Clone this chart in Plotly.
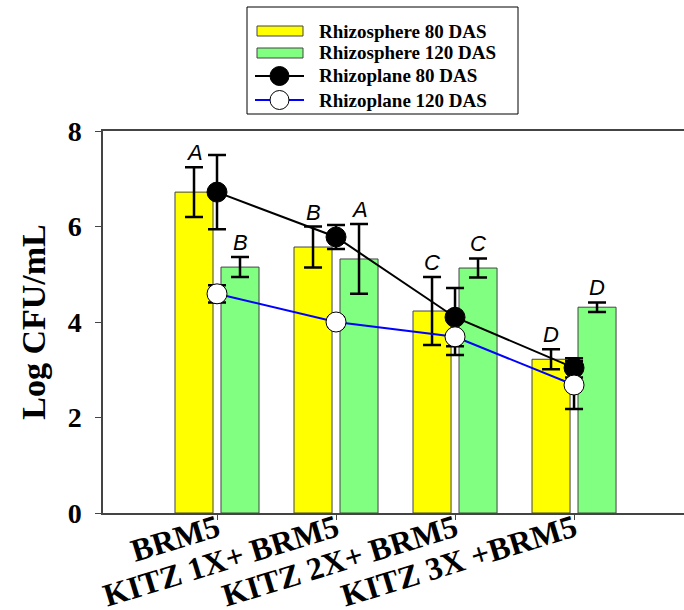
import plotly.graph_objects as go

categories = ["BRM5", "KITZ 1X+ BRM5", "KITZ 2X+ BRM5", "KITZ 3X +BRM5"]

rhizosphere_80 = [6.72, 5.57, 4.23, 3.22]
rhizosphere_80_err = [0.52, 0.43, 0.71, 0.21]
rhizosphere_120 = [5.15, 5.32, 5.13, 4.31]
rhizosphere_120_err = [0.21, 0.73, 0.20, 0.10]
rhizoplane_80 = [6.72, 5.78, 4.10, 3.04]
rhizoplane_80_err = [0.78, 0.25, 0.61, 0.20]
rhizoplane_120 = [4.59, 4.00, 3.69, 2.68]
rhizoplane_120_err = [0.18, 0.10, 0.38, 0.50]

letters_80 = ["A", "B", "C", "D"]
letters_120 = ["B", "A", "C", "D"]

series_names = ["Rhizosphere 80 DAS", "Rhizosphere 120 DAS", "Rhizoplane 80 DAS", "Rhizoplane 120 DAS"]

W, H = 684, 610
ML, MR, MT, MB = 103, 0, 131, 97
BARGAP = 0.227
BARGROUPGAP = 0.173

SERIF = "Liberation Serif, Times New Roman, serif"
SANS = "Liberation Sans, Arial, sans-serif"

fig = go.Figure()

err_style = dict(type="data", visible=True, thickness=2.5, width=9, color="black")

fig.add_trace(go.Bar(
    x=categories, y=rhizosphere_80, name=series_names[0],
    marker=dict(color="#FFFF00", line=dict(color="#444444", width=1)),
    error_y=dict(array=rhizosphere_80_err, **err_style), showlegend=False))
fig.add_trace(go.Bar(
    x=categories, y=rhizosphere_120, name=series_names[1],
    marker=dict(color="#80FF80", line=dict(color="#444444", width=1)),
    error_y=dict(array=rhizosphere_120_err, **err_style), showlegend=False))
fig.add_trace(go.Scatter(
    x=categories, y=rhizoplane_80, name=series_names[2], mode="lines+markers",
    line=dict(color="black", width=2),
    marker=dict(symbol="circle", size=20, color="black", line=dict(color="black", width=1)),
    error_y=dict(array=rhizoplane_80_err, **err_style), showlegend=False))
fig.add_trace(go.Scatter(
    x=categories, y=rhizoplane_120, name=series_names[3], mode="lines+markers",
    line=dict(color="#0000FF", width=2),
    marker=dict(symbol="circle", size=20, color="white", line=dict(color="black", width=1)),
    error_y=dict(array=rhizoplane_120_err, **err_style), showlegend=False))

# significance letters above the bar error bars
off = (1 - BARGAP) / 4
annotations = []
for i in range(len(categories)):
    for dx, val, err, let in ((-off, rhizosphere_80[i], rhizosphere_80_err[i], letters_80[i]),
                              (off, rhizosphere_120[i], rhizosphere_120_err[i], letters_120[i])):
        annotations.append(dict(x=i + dx, y=val + err, xref="x", yref="y", text=let,
                                showarrow=False, yanchor="bottom", yshift=0,
                                font=dict(family=SANS, size=22, color="black", style="italic")))

# custom legend (pixel positions converted to paper coordinates)
PW = W - ML - MR
PH = H - MT - MB
def px(x):
    return (x - ML) / PW
def py(y):
    return (H - MB - y) / PH

shapes = []
shapes.append(dict(type="rect", xref="paper", yref="paper", x0=px(247), x1=px(518),
                   y0=py(114), y1=py(7), line=dict(color="black", width=1), fillcolor="white"))
rows = [31, 53, 76, 100]
for name, cy, kind in zip(series_names, rows, ["bar1", "bar2", "line1", "line2"]):
    if kind == "bar1" or kind == "bar2":
        shapes.append(dict(type="rect", xref="paper", yref="paper", x0=px(257), x1=px(303),
                           y0=py(cy + 5), y1=py(cy - 5),
                           fillcolor="#FFFF00" if kind == "bar1" else "#80FF80",
                           line=dict(color="#444444", width=1)))
    else:
        col = "black" if kind == "line1" else "#0000FF"
        shapes.append(dict(type="line", xref="paper", yref="paper", x0=px(255), x1=px(304),
                           y0=py(cy), y1=py(cy), line=dict(color=col, width=2)))
        shapes.append(dict(type="circle", xref="paper", yref="paper", x0=px(270), x1=px(289),
                           y0=py(cy + 9.5), y1=py(cy - 9.5),
                           fillcolor="black" if kind == "line1" else "white",
                           line=dict(color="black", width=1)))
    annotations.append(dict(x=px(317), y=py(cy), xref="paper", yref="paper", text=name,
                            showarrow=False, xanchor="left", yanchor="middle",
                            font=dict(family=SERIF, size=19, color="black", weight="bold")))

fig.update_layout(
    width=W, height=H,
    margin=dict(l=ML, r=MR, t=MT, b=MB, autoexpand=False),
    paper_bgcolor="white", plot_bgcolor="white",
    barmode="group", bargap=BARGAP, bargroupgap=BARGROUPGAP,
    showlegend=False,
    shapes=shapes, annotations=annotations,
)
fig.update_xaxes(
    type="category", range=[-0.958, 3.924], automargin=False,
    showline=True, linecolor="#444444", linewidth=1.5, mirror=True,
    ticks="outside", ticklen=5, tickcolor="#444444",
    tickangle=-17, showgrid=False, zeroline=False, ticklabelstandoff=-22,
    tickfont=dict(family=SERIF, size=32, color="black", weight="bold"),
)
fig.update_yaxes(
    range=[0, 8], tickvals=[0, 2, 4, 6, 8], automargin=False,
    showline=True, linecolor="#444444", linewidth=1.5, mirror=False,
    ticks="outside", ticklen=6, tickcolor="#444444", ticklabelstandoff=8,
    showgrid=False, zeroline=False,
    tickfont=dict(family=SERIF, size=28, color="black", weight="bold"),
    title=dict(text="Log CFU/mL", standoff=12,
               font=dict(family=SERIF, size=34, color="black", weight="bold")),
)

fig.write_html("out.html", config={"displayModeBar": False},
               post_script="document.body.style.margin='0';document.body.style.overflow='hidden';")
